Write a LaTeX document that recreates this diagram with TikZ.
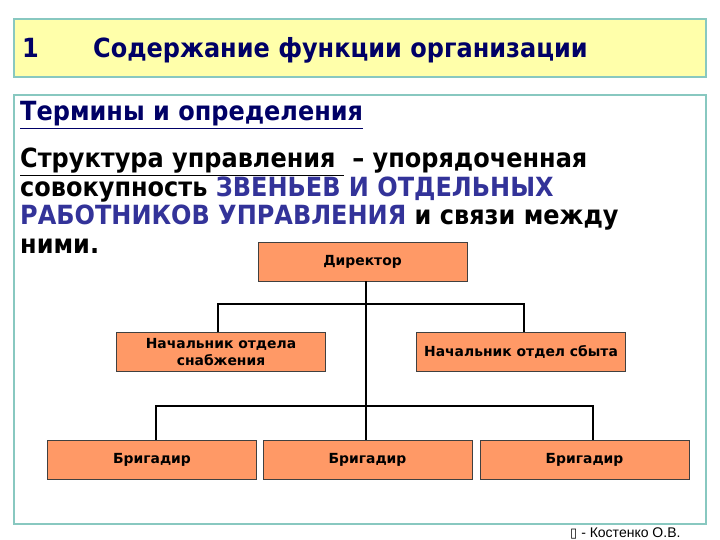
\documentclass[tikz,border=0pt]{standalone}
\usepackage{fontspec}
\setmainfont{DejaVu Sans}
\newfontfamily\footfont{Liberation Sans}
\newfontfamily\symfont{DejaVu Sans}
\newcommand{\tallt}[1]{\scalebox{1}[1.1]{#1}}
\definecolor{navy}{HTML}{000066}
\definecolor{capblue}{HTML}{333399}
\definecolor{titlefill}{HTML}{FFFFAA}
\definecolor{frame}{HTML}{88C8C0}
\definecolor{boxfill}{HTML}{FF9966}
\definecolor{boxline}{HTML}{404040}
\tikzset{
  orgbox/.style={draw=boxline, fill=boxfill, line width=0.8pt, minimum width=209pt, minimum height=39pt, inner sep=0pt, align=center, font=\fontsize{13.9}{16.5}\selectfont\bfseries},
  conn/.style={line width=2pt, black},
  bodyline/.style={anchor=base west, inner sep=0pt, font=\fontsize{24}{28}\selectfont\bfseries}
}
\begin{document}
\begin{tikzpicture}[x=1pt,y=-1pt]
\useasboundingbox (0,0) rectangle (720,540);
\fill[white] (0,0) rectangle (720,540);
% title
\draw[frame, fill=titlefill, line width=1.2pt] (14,19) rectangle (706,77);
\node[anchor=base west, inner sep=0pt, text=navy, font=\fontsize{24}{28}\selectfont\bfseries] (num) at (22,58) {\tallt{1}};
\node[anchor=base west, inner sep=0pt, text=navy, font=\fontsize{24}{28}\selectfont\bfseries] (title) at (93,58) {\tallt{Содержание функции организации}};
% body frame
\draw[frame, line width=1.2pt] (14,95) rectangle (706,524);
\node[anchor=base west, inner sep=0pt, text=navy, font=\fontsize{24}{28}\selectfont\bfseries] (terms) at (20,121) {\underline{\tallt{Термины и определения}}};
\node[bodyline] (l1) at (20,168) {\underline{\tallt{Структура управления\ }}\ \tallt{– упорядоченная}};
\node[bodyline] (l2) at (20,196.5) {\tallt{совокупность \textcolor{capblue}{ЗВЕНЬЕВ И ОТДЕЛЬНЫХ}}};
\node[bodyline] (l3) at (20,225) {\tallt{\textcolor{capblue}{РАБОТНИКОВ УПРАВЛЕНИЯ} и связи между}};
\node[bodyline] (l4) at (20,253.5) {\tallt{ними.}};
% org chart
\node[orgbox] (dir) at (362.5,261.5) {Директор};
\node[orgbox] (sup) at (221,352) {Начальник отдела\\снабжения};
\node[orgbox] (sal) at (521,352) {Начальник отдел сбыта};
\node[orgbox] (b1) at (152,459.5) {Бригадир};
\node[orgbox] (b2) at (367.5,459.5) {Бригадир};
\node[orgbox] (b3) at (584.5,459.5) {Бригадир};
\coordinate (j1) at (366,304);
\coordinate (j2) at (366,406);
\draw[conn] (dir.south -| j1) -- (j2);
\draw[conn] (sup.north -| 218,0) |- (j1) -| (sal.north -| 524,0);
\draw[conn] (b1.north -| 156,0) |- (j2) -| (b3.north -| 593,0);
\draw[conn] (j2) -- (b2.north -| j2);
% footer
\node[anchor=base west, inner sep=0pt, font=\footfont\fontsize{14}{16}\selectfont] (foot) at (570,537) {{\symfont\fontsize{13}{14}\selectfont ▯} - Костенко О.В.};
\end{tikzpicture}
\end{document}
